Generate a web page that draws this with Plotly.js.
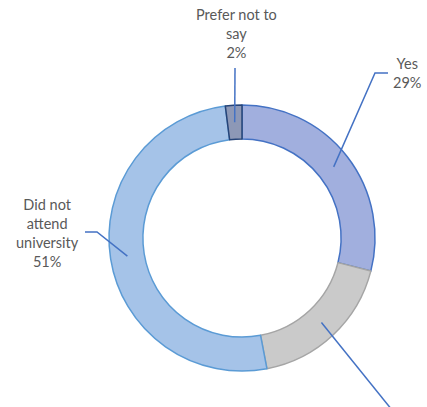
<!DOCTYPE html>
<html>
<head>
<meta charset="utf-8">
<script src="https://cdn.plot.ly/plotly-3.0.1.min.js"></script>
<style>html,body{margin:0;padding:0;background:#fff;}#chart{width:427px;height:407px;}</style>
</head>
<body>
<div id="chart"></div>
<script>
// Data
const categories = ["Yes", "No", "Did not attend university", "Prefer not to say"];
const values = [29, 18, 51, 2];
// label of the grey slice lies outside the visible frame in the reference
const labelTexts = ["Yes<br>29%", "", "Did not<br>attend<br>university<br>51%", "Prefer not to<br>say<br>2%"];

// Styling
const fillColors = ["#a1afde", "#cacaca", "#a5c3e8", "#8d98b6"];
const lineColors = ["#4472c4", "#a5a5a5", "#5b9bd5", "#264478"];
const W = 427, H = 407;
const cx = 242, cy = 238, rOuter = 133, hole = 0.745;
const rMid = rOuter * (1 + hole) / 2;
// label positions (px) and elbow points for leader lines
const labelPos = [[407, 73], [405, 440], [47, 233], [237, 33]];
const elbowPts = [[[375, 73], [388, 73]], [[392, 410]], [[97, 232], [85, 232]], [[235, 68]]];

const px = x => x / W, py = y => 1 - y / H;

// compute anchors from data
const total = values.reduce((a, b) => a + b, 0);
let cum = 0;
const anchors = values.map(v => {
  const mid = (cum + v / 2) / total * 2 * Math.PI;
  cum += v;
  return [cx + rMid * Math.sin(mid), cy - rMid * Math.cos(mid)];
});

const shapes = anchors.map((a, i) => {
  let d = `M${px(a[0])},${py(a[1])}`;
  elbowPts[i].forEach(p => { d += ` L${px(p[0])},${py(p[1])}`; });
  return {type: "path", xref: "paper", yref: "paper", path: d,
          line: {color: "#4472c4", width: 1.5}};
});

const annotations = labelTexts.map((t, i) => ({ t, i })).filter(o => o.t).map(({t, i}) => ({
  xref: "paper", yref: "paper", x: px(labelPos[i][0]), y: py(labelPos[i][1]),
  text: t, showarrow: false, xanchor: "center", yanchor: "middle", align: "center",
  font: {family: "Lato, 'Open Sans', sans-serif", size: 14.5, color: "#595959"}
}));

const trace = {
  type: "pie",
  labels: categories,
  values: values,
  hole: hole,
  sort: false,
  direction: "clockwise",
  rotation: 0,
  textinfo: "none",
  hoverinfo: "label+percent",
  marker: {colors: fillColors, line: {color: lineColors, width: 1.5}},
  domain: {x: [px(cx - rOuter), px(cx + rOuter)], y: [py(cy + rOuter), py(cy - rOuter)]},
  showlegend: false
};

const layout = {
  width: W, height: H,
  margin: {l: 0, r: 0, t: 0, b: 0},
  paper_bgcolor: "#ffffff",
  plot_bgcolor: "#ffffff",
  showlegend: false,
  shapes: shapes,
  annotations: annotations
};

Plotly.newPlot("chart", [trace], layout, {displayModeBar: false, staticPlot: true});
</script>
</body>
</html>
